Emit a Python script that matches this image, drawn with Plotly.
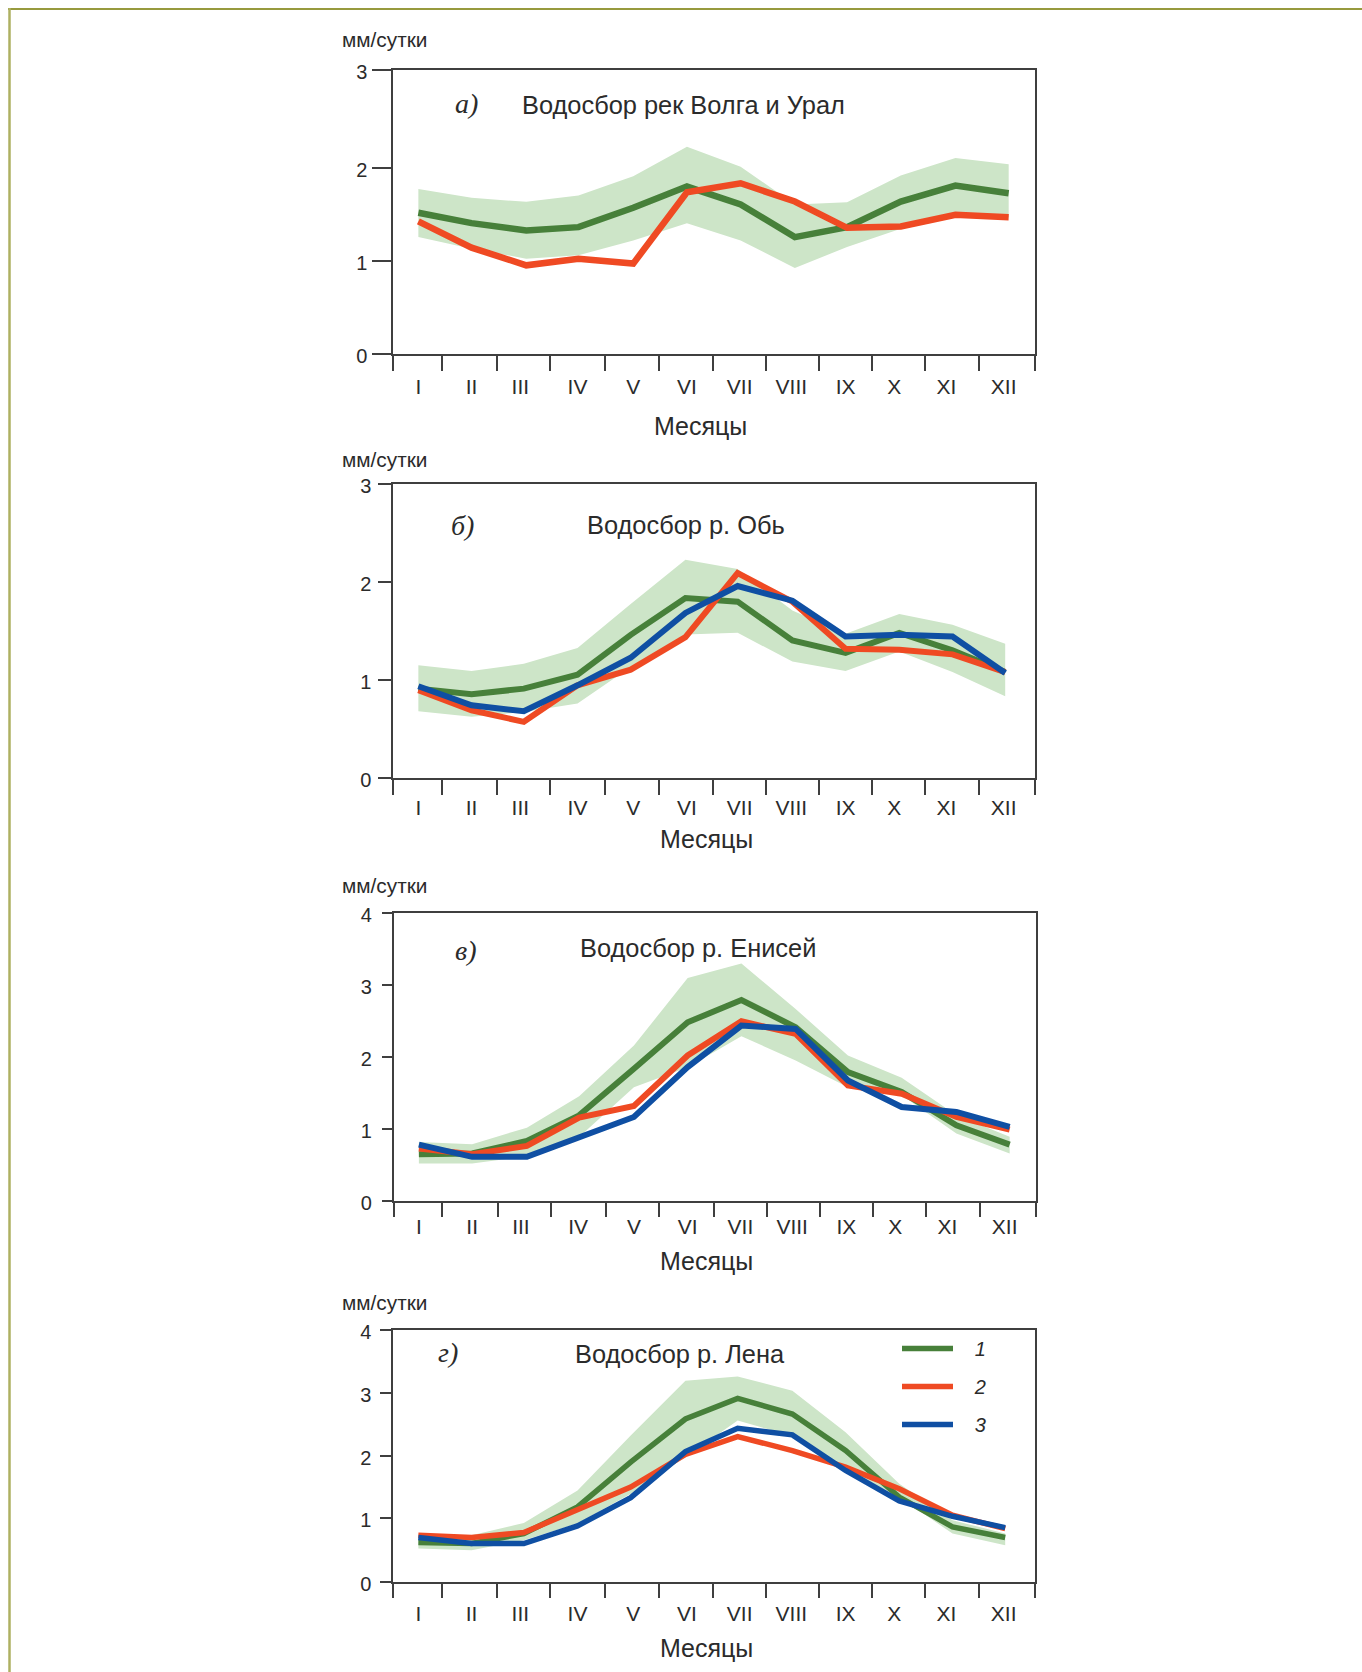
import plotly.graph_objects as go

W, H = 1362, 1672
FONT = "Liberation Sans"
INK = "#2b2b2b"
AXIS = "#3f3f3f"
GREEN = "#47803a"
RED = "#ef4a23"
BLUE = "#0f4fa3"
BAND = "#cde5c8"
GOLD = "#979a3e"

MONTHS = ["I", "II", "III", "IV", "V", "VI", "VII", "VIII", "IX", "X", "XI", "XII"]
EDGES = [0, 0.911, 1.943, 2.937, 3.969, 4.964, 5.986, 6.981, 7.957, 8.951, 9.945, 10.958, 12]
LABEL_POS = [0.474, 1.469, 2.38, 3.449, 4.49, 5.494, 6.479, 7.446, 8.459, 9.37, 10.346, 11.415]
X_AC = [0.474, 1.469, 2.491, 3.467, 4.49, 5.494, 6.498, 7.511, 8.487, 9.491, 10.513, 11.508]
X_BD = [0.474, 1.469, 2.445, 3.449, 4.443, 5.466, 6.442, 7.465, 8.459, 9.463, 10.458, 11.443]

A_G = [1.493, 1.384, 1.307, 1.342, 1.546, 1.770, 1.581, 1.237, 1.342, 1.612, 1.780, 1.700]
A_R = [1.402, 1.125, 0.939, 1.009, 0.957, 1.710, 1.805, 1.612, 1.335, 1.349, 1.472, 1.447]
A_U = [1.745, 1.651, 1.609, 1.675, 1.879, 2.190, 1.980, 1.581, 1.605, 1.886, 2.071, 2.005]
A_L = [1.237, 1.114, 1.009, 1.044, 1.202, 1.384, 1.202, 0.911, 1.132, 1.325, 1.465, 1.447]

B_G = [0.913, 0.856, 0.913, 1.055, 1.461, 1.836, 1.799, 1.404, 1.278, 1.481, 1.302, 1.082]
B_R = [0.896, 0.693, 0.575, 0.947, 1.106, 1.437, 2.090, 1.799, 1.319, 1.309, 1.262, 1.082]
B_B = [0.937, 0.744, 0.683, 0.947, 1.228, 1.684, 1.958, 1.809, 1.444, 1.461, 1.444, 1.072]
B_U = [1.150, 1.092, 1.167, 1.326, 1.776, 2.225, 2.131, 1.708, 1.471, 1.674, 1.563, 1.370]
B_L = [0.683, 0.626, 0.676, 0.761, 1.133, 1.464, 1.481, 1.190, 1.092, 1.292, 1.082, 0.835]

C_G = [0.647, 0.657, 0.832, 1.188, 1.836, 2.483, 2.793, 2.414, 1.790, 1.512, 1.050, 0.781]
C_R = [0.726, 0.647, 0.763, 1.156, 1.318, 2.021, 2.497, 2.321, 1.605, 1.489, 1.165, 0.990]
C_B = [0.781, 0.610, 0.610, 0.888, 1.165, 1.859, 2.437, 2.391, 1.674, 1.304, 1.235, 1.027]
C_U = [0.818, 0.786, 1.017, 1.452, 2.160, 3.098, 3.302, 2.668, 2.021, 1.711, 1.190, 0.890]
C_L = [0.518, 0.518, 0.620, 0.888, 1.580, 1.859, 2.289, 1.951, 1.580, 1.466, 0.934, 0.657]

D_G = [0.624, 0.608, 0.766, 1.189, 1.902, 2.589, 2.917, 2.668, 2.087, 1.347, 0.872, 0.703]
D_R = [0.740, 0.703, 0.782, 1.136, 1.506, 2.024, 2.309, 2.087, 1.823, 1.480, 1.057, 0.845]
D_B = [0.703, 0.608, 0.608, 0.888, 1.337, 2.071, 2.441, 2.336, 1.770, 1.284, 1.041, 0.861]
D_U = [0.740, 0.740, 0.935, 1.453, 2.325, 3.197, 3.266, 3.038, 2.378, 1.559, 0.978, 0.766]
D_L = [0.528, 0.502, 0.660, 0.925, 1.400, 1.980, 2.563, 2.320, 1.770, 1.347, 0.766, 0.581]

TITLES = ["Водосбор рек Волга и Урал", "Водосбор р. Обь", "Водосбор р. Енисей", "Водосбор р. Лена"]
LETTERS = ["а)", "б)", "в)", "г)"]
UNIT = "мм/сутки"
XTITLE = "Месяцы"
LEGEND_NAMES = ["\u00a0\u00a0\u00a01", "\u00a0\u00a0\u00a02", "\u00a0\u00a0\u00a03"]
Y_MAX = [3, 3, 4, 4]
Y_TICKS = [[0, 0.985, 1.97, 3], [0, 1.0, 2.0, 3], [0, 1, 2, 3, 4], [0, 1.02, 2.0, 3.0, 4]]
Y_TEXT = [["0", "1", "2", "3"], ["0", "1", "2", "3"], ["0", "1", "2", "3", "4"], ["0", "1", "2", "3", "4"]]

# layout, in page pixels
PANELS = [
    dict(top=70.0, bottom=354.3, left=393, right=1035, ticklen=19, xlab=9, title=(683.6, 104.7), letter=(466.6, 104), unit=(384.6, 39.7), xt=(700.5, 426)),
    dict(top=483.7, bottom=778.3, left=393, right=1035, ticklen=13, xlab=6, title=(686, 525), letter=(463, 525), unit=(384.6, 459.7), xt=(706.5, 839)),
    dict(top=913.3, bottom=1200.7, left=393.5, right=1036, ticklen=10, xlab=2.5, title=(698, 948), letter=(465.6, 950), unit=(384.6, 886), xt=(706.5, 1260.7)),
    dict(top=1330.3, bottom=1581.7, left=393, right=1035, ticklen=11, xlab=8, title=(680, 1354), letter=(447.7, 1352.7), unit=(384.6, 1302), xt=(706.5, 1648)),
]
SERIES = [
    (X_AC, A_U, A_L, A_G, A_R, None, 6.5),
    (X_BD, B_U, B_L, B_G, B_R, B_B, 6.0),
    (X_AC, C_U, C_L, C_G, C_R, C_B, 6.0),
    (X_BD, D_U, D_L, D_G, D_R, D_B, 5.5),
]


def px(x):
    return x / W


def py(y):
    return 1 - y / H


fig = go.Figure()
annotations = []


def note(text, pos, size, italic=False, family=FONT):
    annotations.append(dict(
        text=text, x=px(pos[0]), y=py(pos[1]), xref="paper", yref="paper",
        xanchor="center", yanchor="middle", showarrow=False,
        font=dict(family=family, size=size, color=INK, style="italic" if italic else "normal"),
    ))


for i, (p, s) in enumerate(zip(PANELS, SERIES)):
    n = i + 1
    xa, ya = f"x{n}", f"y{n}"
    xs, up, lo, g, r, b, lw = s
    fig.add_trace(go.Scatter(x=xs, y=lo, xaxis=xa, yaxis=ya, mode="lines", line=dict(width=0),
                             showlegend=False, hoverinfo="skip"))
    fig.add_trace(go.Scatter(x=xs, y=up, xaxis=xa, yaxis=ya, mode="lines", line=dict(width=0),
                             fill="tonexty", fillcolor=BAND, showlegend=False, hoverinfo="skip"))
    is_last = i == 3
    for vals, col, name in ((g, GREEN, LEGEND_NAMES[0]), (r, RED, LEGEND_NAMES[1]), (b, BLUE, LEGEND_NAMES[2])):
        if vals is None:
            continue
        fig.add_trace(go.Scatter(x=xs, y=vals, xaxis=xa, yaxis=ya, mode="lines", name=name,
                                 line=dict(color=col, width=lw, shape="linear"),
                                 showlegend=is_last, legendgroup=name))
    fig.update_layout({
        f"xaxis{n}": dict(
            domain=[px(p["left"]), px(p["right"])], range=[0, 12], anchor=ya, automargin=False,
            showgrid=False, zeroline=False, showline=True, mirror=True,
            linecolor=AXIS, linewidth=1.5,
            tickmode="array", tickvals=LABEL_POS, ticktext=MONTHS,
            ticks="outside", ticklen=p["xlab"], tickcolor="rgba(0,0,0,0)", tickwidth=1,
            ticklabelstandoff=4,
            tickfont=dict(family=FONT, size=21, color=INK),
            minor=dict(tickmode="array", tickvals=EDGES, ticks="outside", ticklen=15,
                       tickcolor=AXIS, tickwidth=1.5, showgrid=False),
        ),
        f"yaxis{n}": dict(
            domain=[py(p["bottom"]), py(p["top"])], range=[0, Y_MAX[i]], anchor=xa, automargin=False,
            showgrid=False, zeroline=False, showline=True, mirror=True,
            linecolor=AXIS, linewidth=1.5,
            tickmode="array", tickvals=Y_TICKS[i], ticktext=Y_TEXT[i],
            ticks="outside", ticklen=p["ticklen"], tickcolor=AXIS, tickwidth=1.5,
            ticklabelstandoff=max(1, 16 - p["ticklen"]), ticklabelshift=2,
            tickfont=dict(family=FONT, size=20, color=INK),
        ),
    })
    note(TITLES[i], p["title"], 25.4)
    note(LETTERS[i], p["letter"], 28, italic=True, family="Liberation Serif")
    note(UNIT, p["unit"], 20.8)
    note(XTITLE, p["xt"], 25)

shapes = [
    dict(type="line", xref="paper", yref="paper", x0=px(8), x1=1, y0=py(9), y1=py(9),
         line=dict(color=GOLD, width=2)),
    dict(type="line", xref="paper", yref="paper", x0=px(9.5), x1=px(9.5), y0=py(8), y1=0,
         line=dict(color="#aeb062", width=2.5)),
]

fig.update_layout(
    template="none",
    width=W, height=H, margin=dict(l=0, r=0, t=0, b=0, pad=0), autosize=False,
    paper_bgcolor="white", plot_bgcolor="white",
    annotations=annotations, shapes=shapes,
    legend=dict(x=px(897), y=py(1329), xanchor="left", yanchor="top",
                bgcolor="rgba(0,0,0,0)", borderwidth=0, itemwidth=51,
                tracegroupgap=9, traceorder="grouped",
                font=dict(family=FONT, size=20, color=INK, style="italic")),
)

fig.write_html("out.html", config={"displayModeBar": False},
               post_script="document.body.style.margin='0';document.body.style.overflow='hidden';")
